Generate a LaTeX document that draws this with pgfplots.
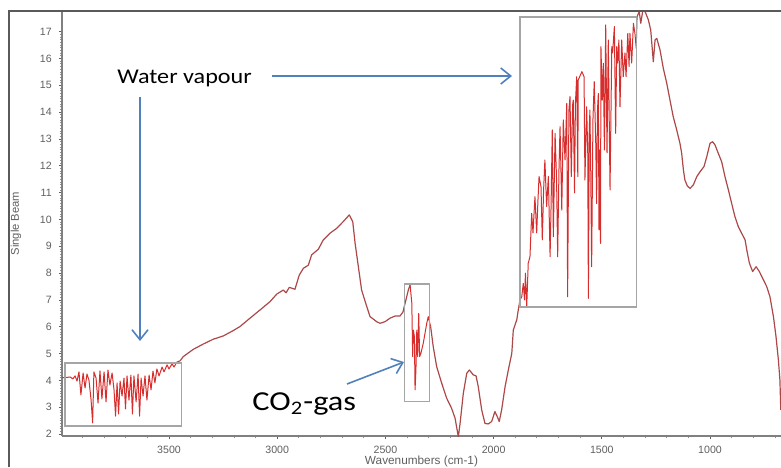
\documentclass[border=0pt]{standalone}
\usepackage{fontspec}
\setmainfont{Liberation Sans}
\newfontfamily\calfont{Carlito}
\usepackage{graphicx}
\usepackage{pgfplots}
\pgfplotsset{compat=1.18}
\usetikzlibrary{arrows.meta}

\definecolor{spec}{RGB}{172,72,72}
\definecolor{noise}{RGB}{215,45,45}
\definecolor{arr}{RGB}{79,129,189}
\definecolor{boxg}{RGB}{165,165,165}
\definecolor{tickg}{RGB}{95,95,95}
\definecolor{frameg}{RGB}{90,90,90}

\pgfplotstableread{
x y
3994 4.11
3976 4.11
3957 4.13
3944 4.06
3934 4.17
3925 3.98
3916 4.32
3907 3.46
3897 4.28
3888 3.72
3879 4.24
3870 4.02
3860 3.27
3853 2.42
3847 4.32
3837 4.09
3828 3.16
3819 4.36
3810 3.31
3800 4.32
3791 3.20
3782 4.39
3773 3.83
3763 4.28
3754 3.65
3747 2.67
3740 3.91
3733 2.75
3726 3.98
3717 3.42
3708 4.09
3701 2.94
3694 4.17
3685 3.27
3676 4.20
3669 2.75
3662 4.17
3652 3.20
3643 4.24
3636 2.67
3629 4.09
3620 3.42
3611 4.17
3602 3.27
3592 4.20
3583 3.65
3574 4.35
3565 3.91
3556 4.43
3546 4.17
3532 4.50
3523 4.32
3509 4.58
3500 4.43
3486 4.62
3477 4.50
3463 4.69
3449 4.73
}\segA

\pgfplotstableread{
x y
3449 4.73
3434 4.89
3388 5.16
3341 5.36
3295 5.54
3249 5.66
3203 5.86
3172 6.01
3126 6.32
3079 6.63
3033 6.94
3002 7.22
2972 7.37
2959 7.27
2944 7.47
2918 7.40
2898 7.93
2879 8.18
2856 8.30
2841 8.68
2810 8.89
2787 9.24
2756 9.49
2725 9.67
2695 9.92
2667 10.17
2651 9.92
2640 9.11
2625 8.24
2610 7.37
2586 6.75
2571 6.38
2540 6.19
2525 6.13
2502 6.19
2479 6.32
2456 6.40
2433 6.40
2419 6.55
2409 6.88
2394 7.37
2386 7.56
}\segB

\pgfplotstableread{
x y
2386 7.56
2378 6.89
2374 4.89
2371 5.88
2366 5.63
2363 3.65
2359 4.39
2355 5.88
2351 4.89
2346 6.50
2342 4.89
2336 5.01
2325 5.39
2309 6.13
2302 6.38
2291 6.01
}\segC

\pgfplotstableread{
x y
2291 6.01
2279 5.26
2263 4.51
2240 3.90
2217 3.34
2194 2.96
2178 2.59
2163 1.90
2155 2.40
2140 3.52
2124 4.27
2112 4.39
2094 4.21
2081 4.17
2071 3.77
2055 2.90
2040 2.40
2025 2.38
2009 2.47
1994 2.84
1983 2.65
1974 2.47
1963 2.90
1947 3.77
1932 4.39
1916 5.01
1909 5.88
1893 6.26
1886 6.63
1878 7.00
}\segD

\pgfplotstableread{
x y
1878 7.00
1870 7.12
1863 7.62
1857 7.00
1853 8.00
1847 6.75
1840 8.37
1832 8.61
1824 10.23
1818 9.50
1809 10.85
1801 9.50
1795 10.73
1790 11.60
1781 11.22
1775 9.24
1769 11.10
1763 12.22
1755 10.48
1747 11.60
1739 8.61
1734 10.73
1729 13.34
1724 9.36
1716 13.21
1709 11.47
1704 8.61
1698 11.85
1693 13.46
1685 10.35
1678 13.71
1670 12.22
1662 14.33
1658 7.12
1652 14.08
1647 14.58
1641 11.60
1635 14.27
1632 14.45
1626 10.99
1622 14.33
1616 15.32
1611 11.60
1609 15.20
1592 15.51
1582 15.32
1578 11.47
1570 14.20
1565 12.48
1562 7.06
1558 13.34
1555 14.08
1551 11.73
1547 8.24
1541 13.71
1535 15.14
1528 12.84
1524 10.60
1520 14.08
1516 14.70
1513 9.61
1510 12.59
1506 9.11
1504 16.44
1498 14.45
1493 15.82
1488 12.59
1482 17.25
1476 12.48
1470 16.69
1462 11.10
1454 16.44
1450 16.21
1442 17.19
1436 13.21
1431 16.44
1427 15.83
1421 16.69
1416 14.20
1408 16.69
1401 15.32
1393 16.21
1388 15.32
1380 16.94
1374 15.70
1370 16.94
1362 15.83
1354 17.31
1347 16.94
1341 16.38
1337 17.56
}\segE

\pgfplotstableread{
x y
1337 17.56
1327 17.75
1320 17.31
1311 17.77
1300 17.75
1285 17.44
1274 17.06
1269 16.57
1262 15.88
1254 16.69
1246 16.75
1231 16.32
1216 15.64
1200 15.08
1185 14.45
1170 13.83
1154 13.34
1139 12.84
1131 12.47
1123 11.85
1116 11.47
1105 11.25
1092 11.16
1077 11.29
1061 11.60
1046 11.78
1028 11.97
1015 12.34
1000 12.84
988 12.90
977 12.78
962 12.47
946 12.15
931 11.60
915 11.10
900 10.60
885 10.11
869 9.73
854 9.49
838 9.24
830 8.86
818 8.37
803 8.06
787 8.24
772 8.06
757 7.81
738 7.50
723 7.12
707 6.38
695 5.63
684 4.76
677 4.02
673 2.90
}\segF

\begin{document}
\begin{tikzpicture}
\useasboundingbox (0pt,0pt) rectangle (390.5pt,-233.5pt);
\begin{axis}[
  at={(31pt,-218pt)}, anchor=south west,
  scale only axis, width=359.5pt, height=212.5pt,
  x dir=reverse,
  xmin=672, xmax=3994.5, ymin=1.93, ymax=17.77,
  axis x line*=bottom, axis y line*=left,
  x axis line style={draw=gray, line width=1pt},
  y axis line style={draw=gray, line width=0.8pt},
  xtick={1000,1500,2000,2500,3000,3500},
  minor xtick={700,800,...,3900},
  ytick={2,3,...,17},
  minor y tick num=9,
  tick align=outside,
  major tick length=1.6pt,
  minor tick length=1.1pt,
  tick style={draw=tickg, line width=0.45pt},
  minor tick style={draw=tickg!70, line width=0.4pt},
  ticklabel style={font=\fontsize{5.3}{6}\selectfont, text=tickg},
  /pgf/number format/assume math mode=true,
  /pgf/number format/1000 sep={},
  xlabel={Wavenumbers (cm-1)},
  ylabel={Single Beam},
  xlabel style={at={(axis description cs:0.5,-0.0605)}, anchor=center, font=\fontsize{5.9}{7}\selectfont, text=tickg},
  ylabel style={at={(axis description cs:-0.064,0.5)}, anchor=center, font=\fontsize{5.6}{7}\selectfont, text=tickg},
  clip=true,
]
\addplot[noise, line width=0.5pt, line join=round] table[x=x,y=y] {\segA};
\addplot[spec, line width=0.6pt, line join=round] table[x=x,y=y] {\segB};
\addplot[noise, line width=0.5pt, line join=round] table[x=x,y=y] {\segC};
\addplot[spec, line width=0.6pt, line join=round] table[x=x,y=y] {\segD};
\addplot[noise, line width=0.5pt, line join=round] table[x=x,y=y] {\segE};
\addplot[spec, line width=0.6pt, line join=round] table[x=x,y=y] {\segF};
\draw[boxg, line width=0.75pt] (axis cs:3980.5,4.65) rectangle (axis cs:3442,2.30);
\draw[boxg, line width=0.75pt] (axis cs:2412.6,7.59) rectangle (axis cs:2297.1,3.21);
\draw[boxg, line width=0.75pt] (axis cs:1877.9,17.54) rectangle (axis cs:1338.7,6.73);
\end{axis}
\begin{scope}[x=0.5pt, y=-0.5pt]
\draw[frameg, line width=1pt] (9,467) -- (9,11) -- (781,11);
\draw[arr, line width=0.8pt, -{Straight Barb[length=5pt,width=8pt]}] (272,76) -- (512,76);
\draw[arr, line width=0.8pt, -{Straight Barb[length=5pt,width=8pt]}] (140,97) -- (140,341);
\draw[arr, line width=0.8pt, -{Straight Barb[length=5pt,width=8pt]}] (347,384) -- (404,362);
\node[anchor=base west, inner sep=0pt] at (117,83.5) {\calfont\fontsize{10.5}{12}\selectfont\scalebox{1.15}[1]{Water vapour}};
\node[anchor=base west, inner sep=0pt] at (252,410) {\calfont\fontsize{13.7}{16}\selectfont\scalebox{1.18}[1]{CO\textsubscript{2}-gas}};
\end{scope}
\end{tikzpicture}
\end{document}
